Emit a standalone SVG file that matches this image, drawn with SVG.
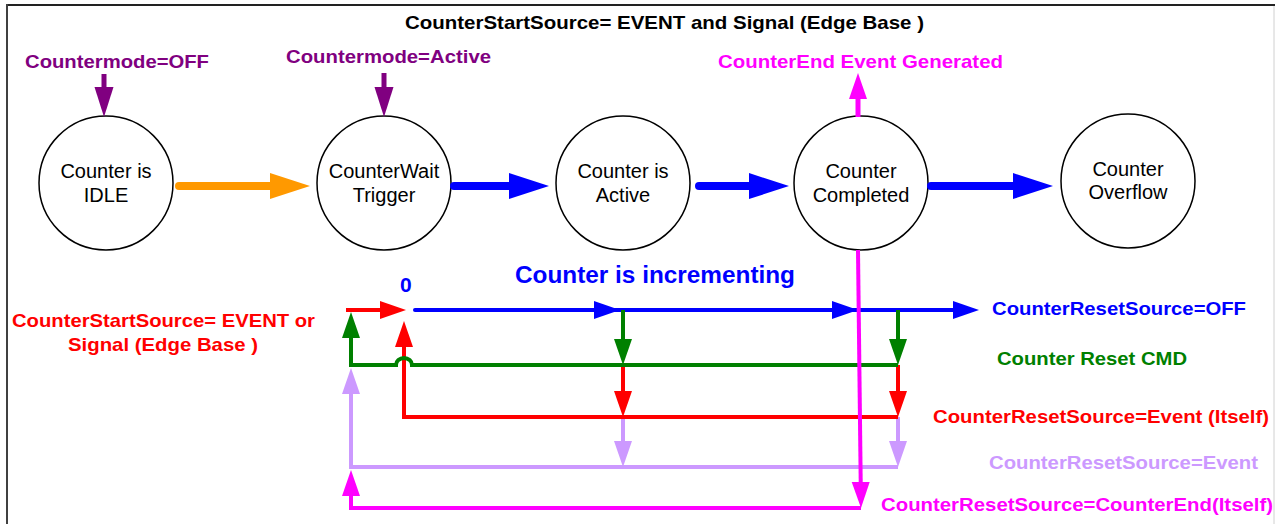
<svg xmlns="http://www.w3.org/2000/svg" width="1275" height="524" viewBox="0 0 1275 524">
<style>
text{font-family:"Liberation Sans",Arial,sans-serif}
.b{font-weight:bold;font-size:19px}
.n{font-size:20px;fill:#000;text-anchor:middle}
.node{fill:#fff;stroke:#000;stroke-width:1.5}
.big{fill:none;stroke-width:8;stroke-linecap:round}
.sm{fill:none;stroke-width:4;stroke-linejoin:miter}
</style>
<defs>
<marker id="hOr" markerUnits="userSpaceOnUse" markerWidth="42" markerHeight="28" refX="0" refY="13" orient="auto" overflow="visible"><path d="M0,0 L40,13 L0,26 z" fill="#FF9900"/></marker>
<marker id="hBl" markerUnits="userSpaceOnUse" markerWidth="42" markerHeight="28" refX="0" refY="13" orient="auto" overflow="visible"><path d="M0,0 L40,13 L0,26 z" fill="#0000FF"/></marker>
<marker id="hPu" markerUnits="userSpaceOnUse" markerWidth="32" markerHeight="20" refX="0" refY="9.5" orient="auto" overflow="visible"><path d="M0,0 L30,9.5 L0,19 z" fill="#800080"/></marker>
<marker id="sBl" markerUnits="userSpaceOnUse" markerWidth="28" markerHeight="18" refX="0" refY="9" orient="auto" overflow="visible"><path d="M0,0 L26,9 L0,18 z" fill="#0000FF"/></marker>
<marker id="sGr" markerUnits="userSpaceOnUse" markerWidth="28" markerHeight="18" refX="0" refY="9" orient="auto" overflow="visible"><path d="M0,0 L26,9 L0,18 z" fill="#008000"/></marker>
<marker id="sRe" markerUnits="userSpaceOnUse" markerWidth="28" markerHeight="18" refX="0" refY="9" orient="auto" overflow="visible"><path d="M0,0 L26,9 L0,18 z" fill="#FF0000"/></marker>
<marker id="sLa" markerUnits="userSpaceOnUse" markerWidth="28" markerHeight="18" refX="0" refY="9" orient="auto" overflow="visible"><path d="M0,0 L26,9 L0,18 z" fill="#CC99FF"/></marker>
<marker id="sMa" markerUnits="userSpaceOnUse" markerWidth="28" markerHeight="18" refX="0" refY="9" orient="auto" overflow="visible"><path d="M0,0 L26,9 L0,18 z" fill="#FF00FF"/></marker>
</defs>
<rect width="1275" height="524" fill="#fff"/>
<g id="frame">
<line x1="6" y1="5" x2="1275" y2="5" stroke="#222" stroke-width="2"/>
<line x1="7" y1="4" x2="7" y2="524" stroke="#404040" stroke-width="2"/>
<line x1="1274" y1="6" x2="1274" y2="524" stroke="#d0d0d0" stroke-width="1"/>
</g>
<text class="b" x="405" y="29" textLength="519" lengthAdjust="spacingAndGlyphs" fill="#000">CounterStartSource= EVENT and Signal (Edge Base )</text>
<g id="node-idle"><circle class="node" cx="106" cy="183" r="67"/><text class="n" x="106" y="178">Counter is</text><text class="n" x="106" y="202">IDLE</text></g>
<g id="node-wait"><circle class="node" cx="384" cy="183" r="67"/><text class="n" x="384" y="178">CounterWait</text><text class="n" x="384" y="202">Trigger</text></g>
<g id="node-active"><circle class="node" cx="623" cy="183" r="67"/><text class="n" x="623" y="178">Counter is</text><text class="n" x="623" y="202">Active</text></g>
<g id="node-completed"><circle class="node" cx="861" cy="183" r="67"/><text class="n" x="861" y="178">Counter</text><text class="n" x="861" y="202">Completed</text></g>
<g id="node-overflow"><circle class="node" cx="1128" cy="181" r="67"/><text class="n" x="1128" y="176">Counter</text><text class="n" x="1128" y="199">Overflow</text></g>
<g id="labels">
<text class="b" x="25" y="68" textLength="184" lengthAdjust="spacingAndGlyphs" fill="#800080">Countermode=OFF</text>
<text class="b" x="286" y="63" textLength="205" lengthAdjust="spacingAndGlyphs" fill="#800080">Countermode=Active</text>
<text class="b" x="718" y="68" textLength="285" lengthAdjust="spacingAndGlyphs" fill="#FF00FF">CounterEnd Event Generated</text>
<text class="b" x="515" y="283" textLength="280" lengthAdjust="spacingAndGlyphs" fill="#0000FF" style="font-size:23px">Counter is incrementing</text>
<text class="b" x="400" y="292" fill="#0000FF" style="font-size:21px">0</text>
<text class="b" x="992" y="315" textLength="254" lengthAdjust="spacingAndGlyphs" fill="#0000FF">CounterResetSource=OFF</text>
<text class="b" x="997" y="365" textLength="190" lengthAdjust="spacingAndGlyphs" fill="#008000">Counter Reset CMD</text>
<text class="b" x="933" y="423" textLength="336" lengthAdjust="spacingAndGlyphs" fill="#FF0000">CounterResetSource=Event (Itself)</text>
<text class="b" x="989" y="469" textLength="269" lengthAdjust="spacingAndGlyphs" fill="#CC99FF">CounterResetSource=Event</text>
<text class="b" x="881" y="511" textLength="392" lengthAdjust="spacingAndGlyphs" fill="#FF00FF">CounterResetSource=CounterEnd(Itself)</text>
<text class="b" x="12" y="327" textLength="303" lengthAdjust="spacingAndGlyphs" fill="#FF0000">CounterStartSource= EVENT or</text>
<text class="b" x="68" y="351" textLength="190" lengthAdjust="spacingAndGlyphs" fill="#FF0000">Signal (Edge Base )</text>
</g>
<g id="connectors">
<path class="big" d="M104,74 L104,87" stroke="#800080" style="stroke-width:5;stroke-linecap:butt" marker-end="url(#hPu)"/>
<path class="big" d="M384,73 L384,87" stroke="#800080" style="stroke-width:5;stroke-linecap:butt" marker-end="url(#hPu)"/>
<path class="big" d="M858,117 L858,99" stroke="#FF00FF" style="stroke-width:5;stroke-linecap:butt" marker-end="url(#sMa)"/>
<path class="big" d="M179,186 L270,186" stroke="#FF9900" marker-end="url(#hOr)"/>
<path class="big" d="M454,186 L509,186" stroke="#0000FF" marker-end="url(#hBl)"/>
<path class="big" d="M699,186 L749,186" stroke="#0000FF" marker-end="url(#hBl)"/>
<path class="big" d="M931,186 L1013,186" stroke="#0000FF" marker-end="url(#hBl)"/>
<path class="sm" d="M346,310 L380,310" stroke="#FF0000" marker-end="url(#sRe)"/>
<path class="sm" d="M415,310 L594,310 L832,310 L953,310" stroke="#0000FF" stroke-linecap="round" marker-mid="url(#sBl)" marker-end="url(#sBl)"/>
<path class="sm" d="M623,310 L623,339" stroke="#008000" marker-end="url(#sGr)"/>
<path class="sm" d="M898,310 L898,339" stroke="#008000" marker-end="url(#sGr)"/>
<path class="sm" d="M623,365 L623,391" stroke="#FF0000" marker-end="url(#sRe)"/>
<path class="sm" d="M898,365 L898,391" stroke="#FF0000" marker-end="url(#sRe)"/>
<path class="sm" d="M623,417 L623,441" stroke="#CC99FF" marker-end="url(#sLa)"/>
<path class="sm" d="M898,417 L898,441" stroke="#CC99FF" marker-end="url(#sLa)"/>
<path class="sm" d="M898,467 L351,467 L351,394" stroke="#CC99FF" marker-end="url(#sLa)"/>
<path class="sm" d="M898,417 L404,417 L404,347" stroke="#FF0000" marker-end="url(#sRe)"/>
<path class="sm" d="M898,365 L412,365 A8,7 0 0 0 396,365 L351,365 L351,338" stroke="#008000" marker-end="url(#sGr)"/>
<path class="sm" d="M861,508 L351,508 L351,496" stroke="#FF00FF" marker-end="url(#sMa)"/>
<path class="sm" d="M858,250 L860.7,482" stroke="#FF00FF" marker-end="url(#sMa)"/>
</g>
</svg>
